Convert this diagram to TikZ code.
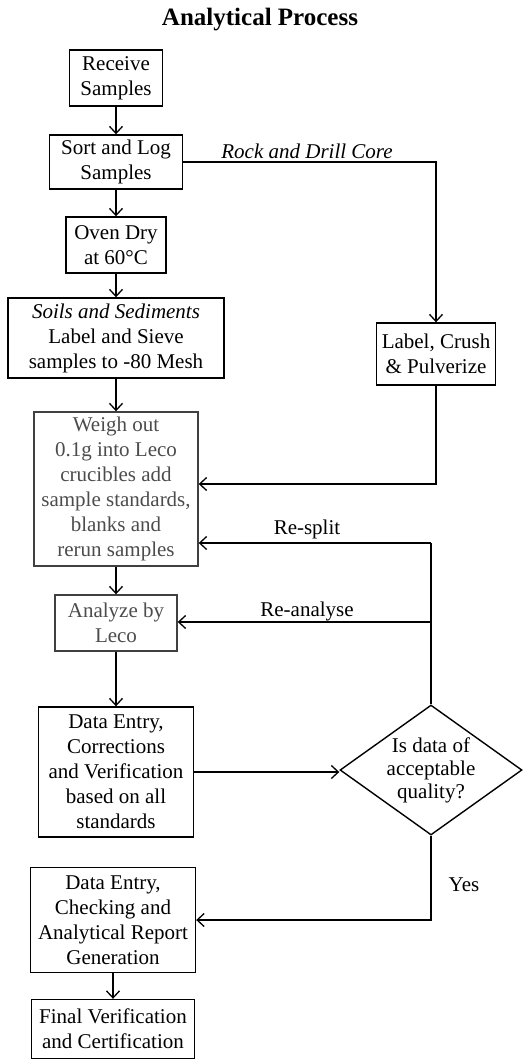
\documentclass[tikz,border=0pt]{standalone}
\usepackage{fontspec}
\setmainfont{Liberation Serif}
\usetikzlibrary{arrows.meta,shapes.geometric}
\begin{document}
\begin{tikzpicture}[x=1pt,y=-1pt,
  box/.style={draw,line width=1.4pt,align=center,inner sep=0pt,font=\fontsize{21}{25}\selectfont},
  faded/.style={draw=black!75,text=black!70},
  arr/.style={line width=1.3pt,-{Straight Barb[length=7pt,width=13pt]}},
  lbl/.style={font=\fontsize{21}{25}\selectfont,inner sep=0pt},
  dec/.style={draw,shape=diamond,line width=1.4pt,inner sep=0pt}]
\useasboundingbox (0,0) rectangle (525,1060);
\node[font=\fontsize{25}{28}\selectfont\bfseries] (title) at (260,20) {Analytical Process};
\node[box,minimum width=93pt,minimum height=56pt] (recv) at (116,78) {Receive\\Samples};
\node[box,minimum width=133pt,minimum height=54pt] (sort) at (116,162) {Sort and Log\\Samples};
\node[box,minimum width=100pt,minimum height=56pt] (oven) at (116,245) {Oven Dry\\at 60°C};
\node[box,minimum width=216pt,minimum height=80pt] (soils) at (116,338) {\textit{Soils and Sediments}\\Label and Sieve\\samples to -80 Mesh};
\node[box,minimum width=119pt,minimum height=62pt] (crush) at (436,354) {Label, Crush\\\& Pulverize};
\node[box,faded,minimum width=164pt,minimum height=154pt] (weigh) at (116,489) {Weigh out\\0.1g into Leco\\crucibles add\\sample standards,\\blanks and\\rerun samples};
\node[box,faded,minimum width=122pt,minimum height=56pt] (anal) at (116,623) {Analyze by\\Leco};
\node[box,minimum width=155pt,minimum height=130pt] (entry) at (116,772) {Data Entry,\\Corrections\\and Verification\\based on all\\standards};
\node[dec,minimum width=182pt,minimum height=130pt,
  label={[align=center,inner sep=0pt,font=\fontsize{21}{23}\selectfont]center:Is data of\\acceptable\\quality?}] (dia) at (431,770) {};
\node[box,minimum width=165pt,minimum height=105pt] (report) at (113,920) {Data Entry,\\Checking and\\Analytical Report\\Generation};
\node[box,minimum width=163pt,minimum height=59pt] (final) at (113,1029) {Final Verification\\and Certification};
\coordinate (rs) at (431,543);
\coordinate (ra) at (431,622);
\coordinate (cr) at (436,484);
\draw[arr] (recv) -- (sort);
\draw[arr] (sort) -- (oven);
\draw[arr] (oven) -- (soils);
\draw[arr] (soils) -- (weigh);
\draw[arr] (weigh) -- (anal);
\draw[arr] (anal) -- (entry);
\draw[arr] (report) -- (final);
\draw[arr] (sort.east) -| (crush.north);
\draw[arr] (crush.south) -- (cr) -- (weigh.east |- cr);
\draw[line width=1.3pt] (dia.north) -- (rs);
\draw[arr] (rs) -- (weigh.east |- rs);
\draw[arr] (ra) -- (anal.east |- ra);
\draw[arr] (entry.east) -- (entry.east -| dia.west);
\draw[arr] (dia.south) |- (report.east);
\node[lbl,font=\fontsize{21}{25}\selectfont\itshape] (rlab) at (307,151) {Rock and Drill Core};
\node[lbl] (slab) at (307,529) {Re-split};
\node[lbl] (alab) at (307,611) {Re-analyse};
\node[lbl] (ylab) at (464,885) {Yes};
\end{tikzpicture}
\end{document}
